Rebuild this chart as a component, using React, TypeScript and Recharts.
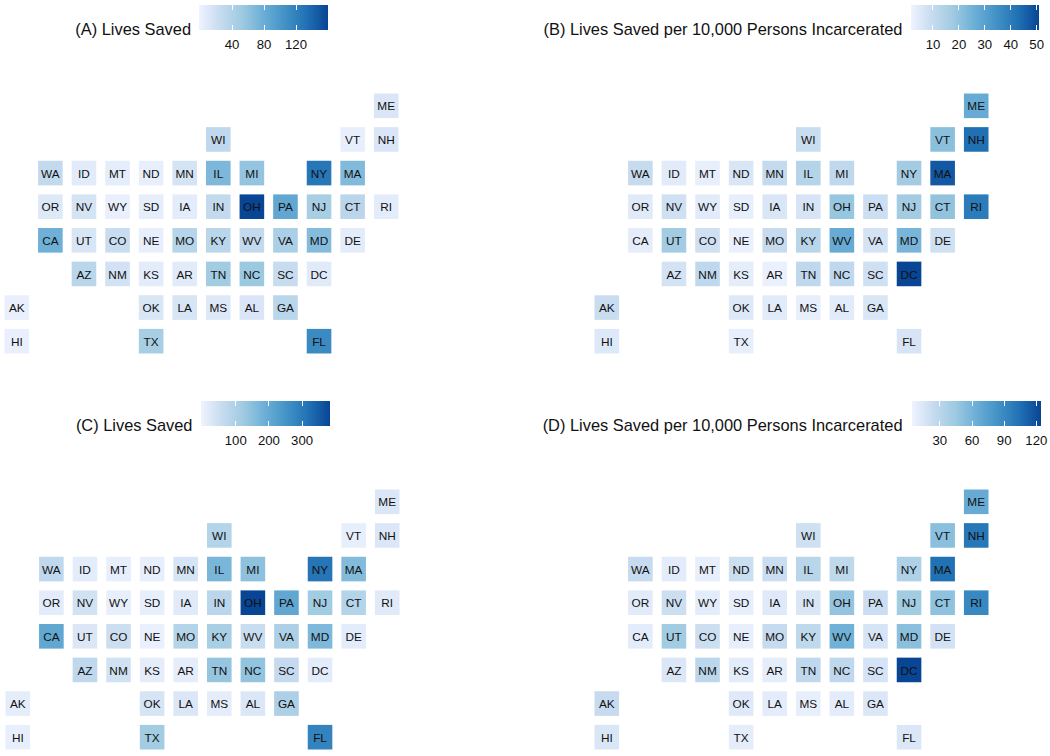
import { ScatterChart, Scatter, XAxis, YAxis } from 'recharts';

// tile grid: column and row of every state, same order everywhere
const states = ['ME','WI','VT','NH','WA','ID','MT','ND','MN','IL','MI','NY','MA','OR','NV','WY','SD','IA','IN','OH','PA','NJ','CT','RI','CA','UT','CO','NE','MO','KY','WV','VA','MD','DE','AZ','NM','KS','AR','TN','NC','SC','DC','AK','OK','LA','MS','AL','GA','HI','TX','FL'];
const cols = [11,6,10,11,1,2,3,4,5,6,7,9,10,1,2,3,4,5,6,7,8,9,10,11,1,2,3,4,5,6,7,8,9,10,2,3,4,5,6,7,8,9,0,4,5,6,7,8,0,4,9];
const rows = [0,1,1,1,2,2,2,2,2,2,2,2,2,3,3,3,3,3,3,3,3,3,3,3,4,4,4,4,4,4,4,4,4,4,5,5,5,5,5,5,5,5,6,6,6,6,6,6,7,7,7];

const valuesA = [13,30,4,13,28,8,6,4,16,70,58,128,68,10,16,3,5,7,28,160,86,46,33,7,78,15,24,4,36,34,28,44,66,7,34,18,7,8,50,54,25,9,3,14,15,10,13,34,3,46,112];
const valuesB = [27,9,21,43,9.5,4,3,6,10,13,11,17,47.5,4.5,8,4,3,6,6.5,19,8.5,17,20,40,3.5,17,8,2.5,9.5,12.5,27,7,24,8,7,11,3.5,2.5,11,11,8,51,9,5,4,3,4,6,5,3,6.5];
const valuesC = [26,88,7,26,70,14,7,7,34,170,145,310,158,14,42,7,7,18,78,383,205,118,88,18,205,26,50,3,88,106,55,100,165,14,70,42,10,10,134,138,62,14,10,34,26,10,26,100,7,118,283];
const valuesD = [66,20,52,100,24,10,8,21,22,31,28,36,104,11,21,10,8,12,15,48,22,42,50,90,10,42,21,8,24,28,62,16,52,18,14,29,10,9,27,27,17,124,24,12,10,8,10,14,15,9,14];

const ticksA = [40, 80, 120];
const ticksB = [10, 20, 30, 40, 50];
const ticksC = [100, 200, 300];
const ticksD = [30, 60, 90, 120];

const BLUES = ['#EFF3FF', '#C6DBEF', '#9ECAE1', '#6BAED6', '#4292C6', '#2171B5', '#084594'];
const FONT = '"Liberation Sans", Arial, sans-serif';

function hexToRgb(hex: string) {
  return [1, 3, 5].map((i) => parseInt(hex.slice(i, i + 2), 16));
}

function blues(t: number) {
  const p = Math.min(Math.max(t, 0), 1) * (BLUES.length - 1);
  const i = Math.min(Math.floor(p), BLUES.length - 2);
  const a = hexToRgb(BLUES[i]);
  const b = hexToRgb(BLUES[i + 1]);
  const c = a.map((v, k) => Math.round(v + (b[k] - v) * (p - i)));
  return `rgb(${c.join(',')})`;
}

function Tile({ cx, cy, payload, domain }: any) {
  const size = 24.6;
  const t = (payload.value - domain[0]) / (domain[1] - domain[0]);
  return (
    <g>
      <rect x={cx - size / 2} y={cy - size / 2} width={size} height={size} fill={blues(t)} />
      <text x={cx} y={cy + 0.6} textAnchor="middle" dominantBaseline="central" fontSize={11.8} fontFamily={FONT} fill="#111">
        {payload.state}
      </text>
    </g>
  );
}

type PanelProps = {
  title: string;
  values: number[];
  ticks: number[];
  domain: number[];
  mapLeft: number;
  mapTop: number;
  barLeft: number;
  barTop: number;
  barHeight: number;
  titleRight: number;
};

function Panel({ title, values, ticks, domain, mapLeft, mapTop, barLeft, barTop, barHeight, titleRight }: PanelProps) {
  const data = states.map((state, i) => ({ state, col: cols[i], row: rows[i], value: values[i] }));
  const barWidth = 128.6;
  const pos = (v: number) => ((v - domain[0]) / (domain[1] - domain[0])) * barWidth;
  return (
    <>
      <div
        style={{
          position: 'absolute',
          right: 1050 - titleRight,
          top: barTop + 24.3 - 11,
          lineHeight: '22px',
          fontSize: 16.4,
          fontFamily: FONT,
          color: '#111',
          whiteSpace: 'nowrap',
        }}
      >
        {title}
      </div>
      <div
        style={{
          position: 'absolute',
          left: barLeft,
          top: barTop,
          width: barWidth,
          height: barHeight,
          background: `linear-gradient(to right, ${BLUES.join(',')})`,
        }}
      >
        {ticks.map((t) => (
          <div key={t}>
            <div style={{ position: 'absolute', left: pos(t) - 0.5, top: 0, width: 1, height: 5, background: '#fff' }} />
            <div style={{ position: 'absolute', left: pos(t) - 0.5, bottom: 0, width: 1, height: 5, background: '#fff' }} />
            <div
              style={{
                position: 'absolute',
                left: pos(t) - 20,
                width: 40,
                top: barHeight + 6.5,
                textAlign: 'center',
                fontSize: 13.2,
                lineHeight: '16px',
                fontFamily: FONT,
                color: '#111',
              }}
            >
              {t}
            </div>
          </div>
        ))}
      </div>
      <div style={{ position: 'absolute', left: mapLeft, top: mapTop }}>
        <ScatterChart width={403} height={269} margin={{ top: 0, right: 0, bottom: 0, left: 0 }}>
          <XAxis type="number" dataKey="col" domain={[-0.5, 11.5]} hide />
          <YAxis type="number" dataKey="row" domain={[-0.5, 7.5]} reversed hide />
          <Scatter data={data} isAnimationActive={false} shape={(p: any) => <Tile {...p} domain={domain} />} />
        </ScatterChart>
      </div>
    </>
  );
}

export default function App() {
  return (
    <div style={{ position: 'absolute', left: 0, top: 0, width: 1050, height: 756, background: '#fff', overflow: 'hidden' }}>
      <Panel title="(A) Lives Saved" values={valuesA} ticks={ticksA} domain={[-1, 160]} mapLeft={0.2} mapTop={89.2} barLeft={199.4} barTop={4.7} barHeight={25.6} titleRight={191} />
      <Panel title="(B) Lives Saved per 10,000 Persons Incarcerated" values={valuesB} ticks={ticksB} domain={[1.4, 51]} mapLeft={589.5} mapTop={89.2} barLeft={910.7} barTop={4.7} barHeight={25.6} titleRight={902.5} />
      <Panel title="(C) Lives Saved" values={valuesC} ticks={ticksC} domain={[-5, 383]} mapLeft={0.9} mapTop={484.9} barLeft={201} barTop={400.7} barHeight={25.4} titleRight={192.5} />
      <Panel title="(D) Lives Saved per 10,000 Persons Incarcerated" values={valuesD} ticks={ticksD} domain={[4, 124]} mapLeft={589.5} mapTop={484.9} barLeft={912} barTop={400.7} barHeight={25.4} titleRight={902.5} />
    </div>
  );
}
